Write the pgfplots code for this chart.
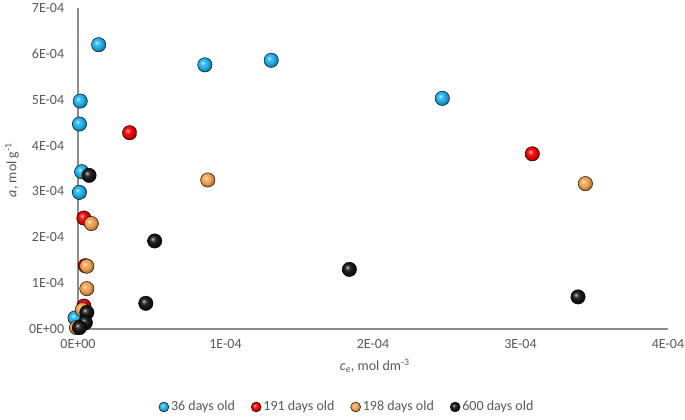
\documentclass[border=0pt]{standalone}
\usepackage{fontspec}
\setmainfont{Carlito}
\usepackage{pgfplots}
\pgfplotsset{compat=1.18}
\definecolor{cblue}{HTML}{1DB0EA}
\definecolor{cred}{HTML}{F00000}
\definecolor{corange}{HTML}{F0A050}
\definecolor{cblack}{HTML}{151515}
\definecolor{axgray}{HTML}{8C8C8C}
\definecolor{txtgray}{HTML}{595959}
\makeatletter
\pgfdeclareradialshading[tikz@ball]{ball}{\pgfqpoint{-8bp}{8bp}}{%
  color(0bp)=(tikz@ball!25!white); color(8bp)=(tikz@ball!85!white);
  color(16bp)=(tikz@ball); color(25bp)=(tikz@ball!70!black); color(50bp)=(tikz@ball!40!black)}
\makeatother
\begin{document}
\fontsize{14pt}{17pt}\selectfont
\begin{tikzpicture}
\useasboundingbox (-78pt,-91pt) rectangle (607pt,329pt);
\begin{axis}[
  scale only axis, width=590pt, height=321pt,
  at={(0,0)}, anchor=south west,
  xmin=0, xmax=0.0004, ymin=0, ymax=0.0007,
  axis lines*=left,
  axis line style={draw=axgray, line width=1.4pt},
  scaled ticks=false,
  xtick={0,0.0001,0.0002,0.0003,0.0004},
  xticklabels={0E+00,1E-04,2E-04,3E-04,4E-04},
  ytick={0,0.0001,0.0002,0.0003,0.0004,0.0005,0.0006,0.0007},
  yticklabels={0E+00,1E-04,2E-04,3E-04,4E-04,5E-04,6E-04,7E-04},
  major tick length=0pt,
  tick label style={font=\fontsize{14pt}{17pt}\selectfont, text=txtgray},
  xticklabel style={yshift=-6pt},
  yticklabel style={xshift=-9pt},
  clip=false,
  xlabel={\textit{c}\textsubscript{\textit{e}}, mol dm\textsuperscript{-3}},
  ylabel={\textit{a}, mol g\textsuperscript{-1}},
  label style={font=\fontsize{14pt}{17pt}\selectfont, text=txtgray},
  xlabel style={at={(axis description cs:0.503,-0.115)}, anchor=center},
  ylabel style={at={(axis description cs:-0.112,0.495)}, anchor=center, rotate=0},
  legend style={at={(axis description cs:0.456,-0.243)}, anchor=center, draw=none,
    font=\fontsize{14pt}{17pt}\selectfont, text=txtgray, legend columns=4,
    /tikz/every even column/.append style={column sep=14pt}},
  legend cell align=left,
]
\addplot[only marks, mark=ball, mark size=7.2pt, mark options={ball color=cblue},
  legend image code/.code={\shade[ball color=cblue] (0.45cm,0) circle (5pt);}] coordinates {
 (1.4e-5,6.2e-4) (8.6e-5,5.76e-4) (1.31e-4,5.86e-4) (2.47e-4,5.03e-4)
 (1.5e-6,4.97e-4) (1e-6,4.47e-4) (2.5e-6,3.43e-4) (1e-6,2.98e-4) (-2e-6,2.4e-5)
};
\addlegendentry{36 days old}
\addplot[only marks, mark=ball, mark size=7.2pt, mark options={ball color=cred},
  legend image code/.code={\shade[ball color=cred] (0.45cm,0) circle (5pt);}] coordinates {
 (3.5e-5,4.28e-4) (3.08e-4,3.82e-4) (4e-6,2.42e-4) (5e-6,1.38e-4) (4e-6,5e-5)
};
\addlegendentry{191 days old}
\addplot[only marks, mark=ball, mark size=7.2pt, mark options={ball color=corange},
  legend image code/.code={\shade[ball color=corange] (0.45cm,0) circle (5pt);}] coordinates {
 (3.44e-4,3.17e-4) (8.8e-5,3.25e-4) (9e-6,2.3e-4) (6e-6,1.37e-4) (6e-6,8.8e-5)
 (3e-6,4.2e-5) (-1e-6,3e-6)
};
\addlegendentry{198 days old}
\addplot[only marks, mark=ball, mark size=7.2pt, mark options={ball color=cblack},
  legend image code/.code={\shade[ball color=cblack] (0.45cm,0) circle (5pt);}] coordinates {
 (7.5e-6,3.35e-4) (5.2e-5,1.92e-4) (1.84e-4,1.3e-4) (4.6e-5,5.6e-5) (3.39e-4,7e-5)
 (6e-6,3.6e-5) (5e-6,1.4e-5) (1e-6,3e-6)
};
\addlegendentry{600 days old}
\end{axis}
\end{tikzpicture}
\end{document}
